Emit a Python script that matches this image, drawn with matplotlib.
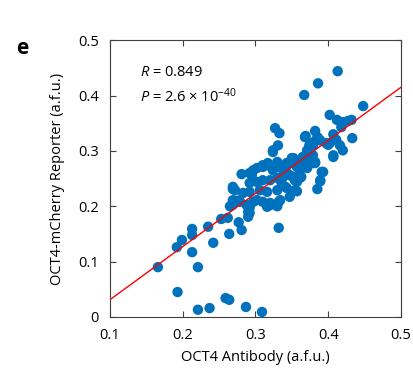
import matplotlib
matplotlib.use("Agg")
import matplotlib.pyplot as plt
import numpy as np

plt.rcParams['font.family'] = ['Open Sans', 'DejaVu Sans']
plt.rcParams['mathtext.fontset'] = 'custom'
plt.rcParams['mathtext.rm'] = 'Open Sans'
plt.rcParams['mathtext.it'] = 'Open Sans:italic'

antibody = [0.166, 0.193, 0.221, 0.237, 0.259, 0.264, 0.287, 0.309,
            0.192, 0.199, 0.213, 0.221, 0.213, 0.213, 0.235, 0.242, 0.253, 0.262,
            0.264, 0.269, 0.268, 0.272, 0.277, 0.281, 0.290, 0.290, 0.281, 0.297,
            0.276, 0.265, 0.332, 0.332, 0.320, 0.292,
            0.327, 0.333, 0.331, 0.324, 0.369, 0.382, 0.402, 0.412, 0.407, 0.413,
            0.386, 0.367, 0.448, 0.420, 0.427, 0.432, 0.418, 0.433, 0.407, 0.400,
            0.411, 0.416, 0.420, 0.393, 0.389, 0.385, 0.357, 0.363, 0.354, 0.361,
            0.357, 0.374, 0.380, 0.386, 0.389, 0.397, 0.343, 0.350, 0.358, 0.365,
            0.371, 0.379, 0.382, 0.310, 0.317, 0.330, 0.297, 0.295, 0.269, 0.386,
            0.324, 0.352, 0.292, 0.302, 0.310, 0.317, 0.324, 0.334, 0.343, 0.292,
            0.302, 0.310, 0.320, 0.330, 0.338, 0.347, 0.272, 0.283, 0.292, 0.306,
            0.316, 0.330, 0.343, 0.354, 0.269, 0.279, 0.288, 0.302, 0.310, 0.320,
            0.334, 0.347, 0.292, 0.330, 0.316, 0.368, 0.385, 0.379, 0.402, 0.407,
            0.371, 0.379, 0.375, 0.382, 0.365, 0.347, 0.357, 0.361, 0.371, 0.338,
            0.343, 0.352, 0.361, 0.391, 0.389, 0.336, 0.341]

reporter = [0.090, 0.045, 0.013, 0.016, 0.034, 0.031, 0.018, 0.009,
            0.126, 0.139, 0.117, 0.090, 0.159, 0.148, 0.163, 0.134, 0.177, 0.179,
            0.150, 0.231, 0.202, 0.208, 0.171, 0.157, 0.190, 0.181, 0.258, 0.208,
            0.210, 0.200, 0.161, 0.208, 0.202, 0.188,
            0.341, 0.332, 0.310, 0.301, 0.327, 0.336, 0.365, 0.356, 0.289, 0.444,
            0.422, 0.401, 0.381, 0.352, 0.354, 0.356, 0.343, 0.323, 0.330, 0.311,
            0.320, 0.310, 0.301, 0.262, 0.245, 0.231, 0.227, 0.253, 0.247, 0.251,
            0.244, 0.310, 0.316, 0.323, 0.319, 0.314, 0.278, 0.287, 0.283, 0.289,
            0.296, 0.278, 0.280, 0.271, 0.274, 0.280, 0.265, 0.256, 0.235, 0.321,
            0.298, 0.287, 0.260, 0.269, 0.274, 0.278, 0.265, 0.271, 0.274, 0.242,
            0.244, 0.247, 0.247, 0.251, 0.253, 0.256, 0.229, 0.224, 0.226, 0.229,
            0.226, 0.229, 0.233, 0.229, 0.211, 0.208, 0.202, 0.211, 0.208, 0.206,
            0.211, 0.217, 0.197, 0.200, 0.199, 0.325, 0.325, 0.310, 0.314, 0.292,
            0.301, 0.292, 0.280, 0.278, 0.274, 0.278, 0.271, 0.265, 0.269, 0.265,
            0.260, 0.253, 0.253, 0.262, 0.247, 0.242, 0.235]

fit_x = [0.1, 0.5]
fit_y = [0.031, 0.415]

x_ticks = [0.1, 0.2, 0.3, 0.4, 0.5]
y_ticks = [0, 0.1, 0.2, 0.3, 0.4, 0.5]

fig = plt.figure(figsize=(4.13, 3.72), dpi=100)
ax = fig.add_axes([0.266, 0.148, 0.705, 0.744])

ax.scatter(antibody, reporter, s=56, color='#0072BD', edgecolors='none', zorder=2)
ax.plot(fit_x, fit_y, color='#FF0000', lw=1.0, zorder=3)

ax.set_xlim(0.1, 0.5)
ax.set_ylim(0, 0.5)
ax.set_xticks(x_ticks)
ax.set_xticklabels([f"{v:g}" for v in x_ticks])
ax.set_yticks(y_ticks)
ax.set_yticklabels([f"{v:g}" for v in y_ticks])
ax.tick_params(direction='in', length=4, width=0.8, color='#404040',
               labelsize=10.5, top=True, right=True, pad=8)
for s in ax.spines.values():
    s.set_color('#404040')
    s.set_linewidth(0.8)

ax.set_xlabel('OCT4 Antibody (a.f.u.)', fontsize=10.5, labelpad=5)
ax.set_ylabel('OCT4-mCherry Reporter (a.f.u.)', fontsize=10.5, labelpad=9)

ax.text(0.141, 0.442, r'$R$ = 0.849', fontsize=10.5, va='center', ha='left')
ax.text(0.141, 0.397, r'$P$ = 2.6 × 10$^{\mathrm{-40}}$', fontsize=10.5, va='center', ha='left')

fig.text(0.053, 0.87, 'e', fontsize=15, fontweight='bold', va='center', ha='center')

fig.savefig('out.png', dpi=100)
